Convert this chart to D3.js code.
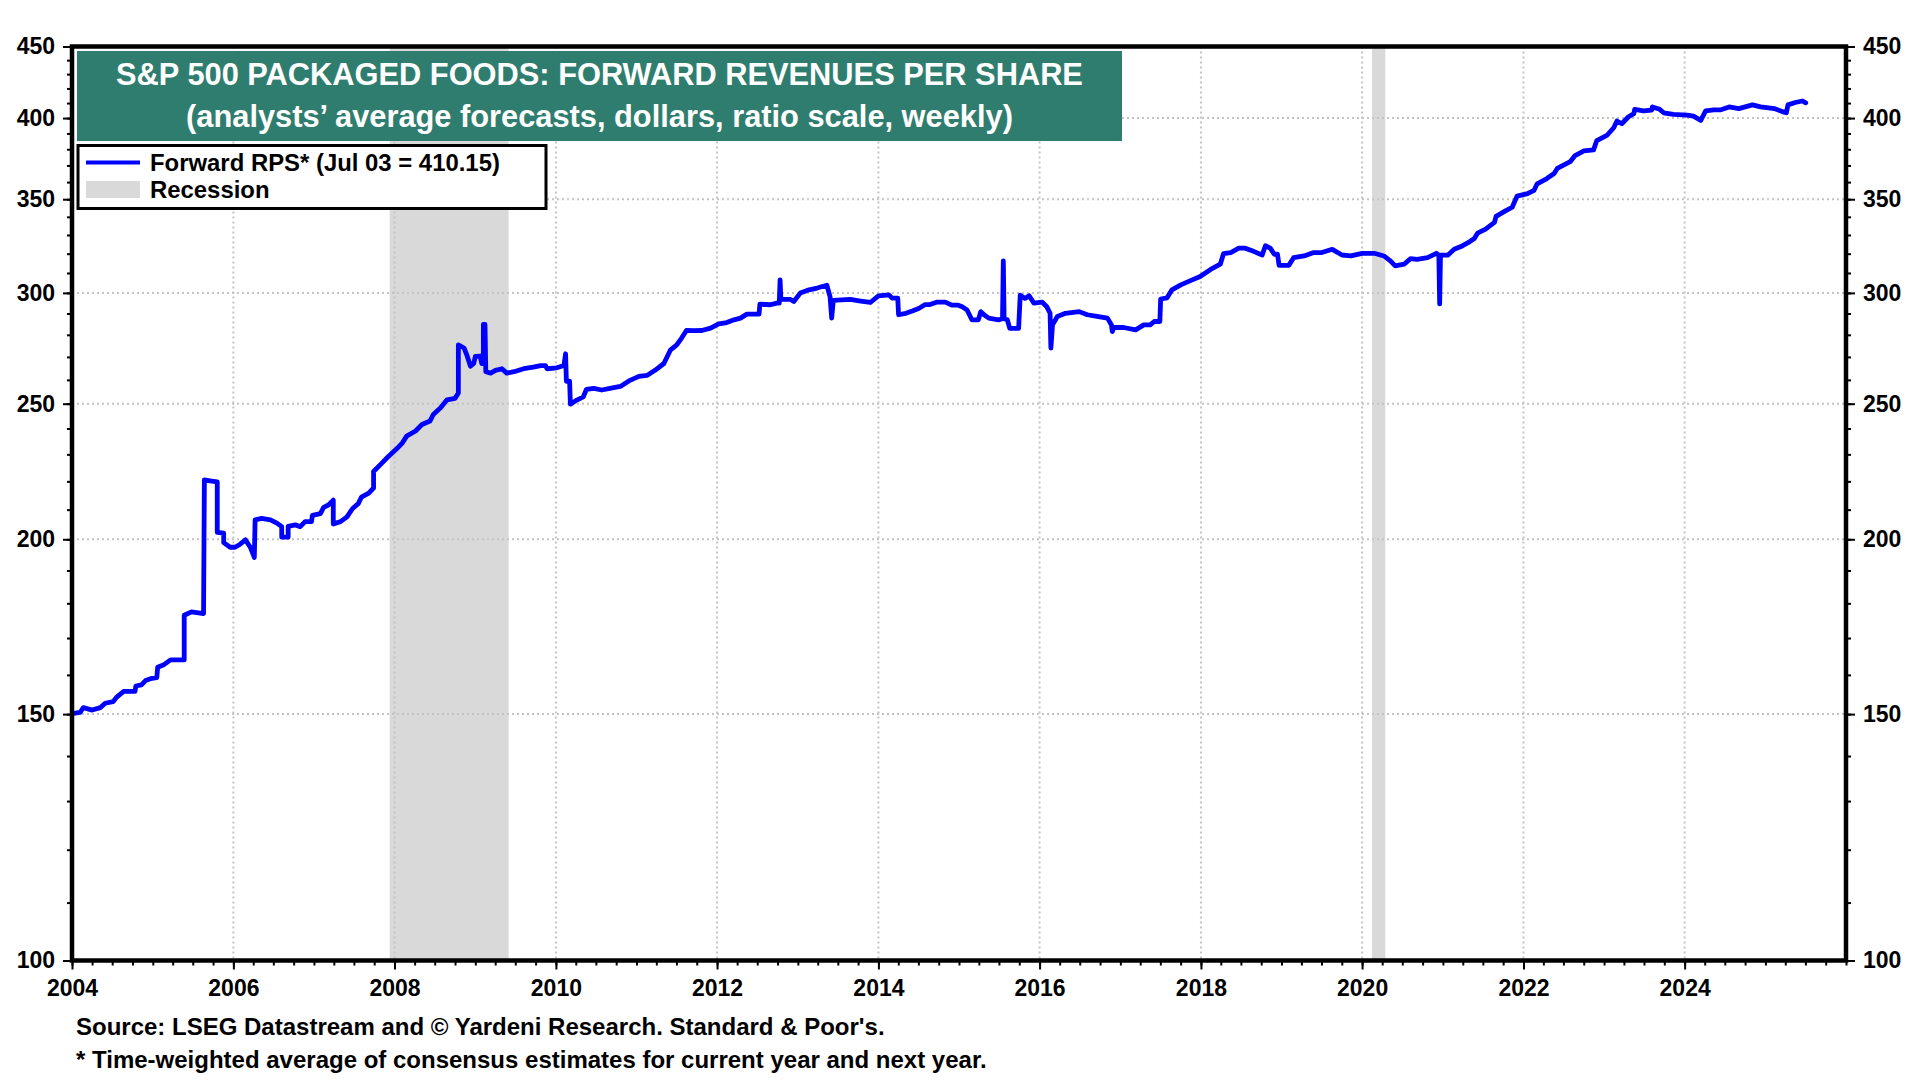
<!DOCTYPE html>
<html lang="en">
<head>
    <meta charset="UTF-8">
    <script src="https://cdn.jsdelivr.net/npm/d3@7"></script>
    <style>
        body { margin: 0; background: #fff; }
        svg { display: block; font-family: "Liberation Sans", Arial, sans-serif; font-weight: bold; }
    </style>
</head>
<body>
<div id="chart"></div>
<script>
    // DATA

    // decimal year of each reading, weekly series thinned to the visible turning points
    const rpsDates = [
        2004.02, 2004.10, 2004.14, 2004.25, 2004.35, 2004.41, 2004.51, 2004.55, 2004.64, 2004.78,
        2004.79, 2004.86, 2004.91, 2004.99, 2005.05, 2005.06, 2005.13, 2005.22, 2005.39, 2005.39,
        2005.48, 2005.63, 2005.64, 2005.71, 2005.80, 2005.80, 2005.88, 2005.88, 2005.96, 2006.02,
        2006.08, 2006.15, 2006.21, 2006.26, 2006.27, 2006.35, 2006.46, 2006.54, 2006.60, 2006.60,
        2006.68, 2006.68, 2006.77, 2006.83, 2006.89, 2006.97, 2006.98, 2007.08, 2007.12, 2007.18,
        2007.24, 2007.24, 2007.33, 2007.41, 2007.48, 2007.55, 2007.59, 2007.68, 2007.74, 2007.74,
        2007.84, 2007.92, 2008.03, 2008.10, 2008.15, 2008.26, 2008.34, 2008.44, 2008.48, 2008.57,
        2008.65, 2008.75, 2008.79, 2008.79, 2008.86, 2008.90, 2008.94, 2008.98, 2009.00, 2009.06,
        2009.08, 2009.10, 2009.10, 2009.12, 2009.13, 2009.19, 2009.25, 2009.33, 2009.39, 2009.48,
        2009.60, 2009.72, 2009.81, 2009.87, 2009.89, 2010.01, 2010.10, 2010.12, 2010.13, 2010.17,
        2010.18, 2010.26, 2010.34, 2010.38, 2010.47, 2010.57, 2010.67, 2010.80, 2010.92, 2011.03,
        2011.13, 2011.23, 2011.34, 2011.42, 2011.50, 2011.56, 2011.62, 2011.71, 2011.81, 2011.92,
        2012.02, 2012.12, 2012.21, 2012.29, 2012.37, 2012.52, 2012.53, 2012.66, 2012.74, 2012.77,
        2012.78, 2012.79, 2012.91, 2012.95, 2013.03, 2013.14, 2013.24, 2013.36, 2013.40, 2013.42,
        2013.44, 2013.65, 2013.78, 2013.90, 2014.00, 2014.13, 2014.17, 2014.24, 2014.25, 2014.34,
        2014.42, 2014.50, 2014.58, 2014.64, 2014.73, 2014.83, 2014.91, 2014.99, 2015.04, 2015.10,
        2015.16, 2015.24, 2015.27, 2015.31, 2015.37, 2015.49, 2015.54, 2015.55, 2015.56, 2015.60,
        2015.63, 2015.74, 2015.76, 2015.82, 2015.87, 2015.93, 2016.03, 2016.09, 2016.13, 2016.14,
        2016.16, 2016.22, 2016.32, 2016.49, 2016.59, 2016.71, 2016.84, 2016.89, 2016.90, 2016.92,
        2017.04, 2017.19, 2017.29, 2017.37, 2017.42, 2017.49, 2017.50, 2017.58, 2017.64, 2017.75,
        2017.87, 2017.99, 2018.12, 2018.24, 2018.28, 2018.37, 2018.47, 2018.55, 2018.66, 2018.76,
        2018.80, 2018.86, 2018.91, 2018.95, 2018.97, 2019.09, 2019.15, 2019.28, 2019.40, 2019.50,
        2019.63, 2019.75, 2019.86, 2020.00, 2020.15, 2020.27, 2020.35, 2020.41, 2020.52, 2020.60,
        2020.68, 2020.81, 2020.92, 2020.95, 2020.96, 2020.97, 2021.06, 2021.14, 2021.24, 2021.33,
        2021.39, 2021.43, 2021.53, 2021.64, 2021.66, 2021.76, 2021.86, 2021.92, 2022.05, 2022.13,
        2022.17, 2022.29, 2022.38, 2022.42, 2022.58, 2022.64, 2022.75, 2022.87, 2022.91, 2023.04,
        2023.12, 2023.16, 2023.22, 2023.30, 2023.37, 2023.38, 2023.49, 2023.59, 2023.60, 2023.69,
        2023.74, 2023.86, 2024.03, 2024.11, 2024.20, 2024.26, 2024.36, 2024.44, 2024.55, 2024.67,
        2024.84, 2024.94, 2025.11, 2025.21, 2025.26, 2025.28, 2025.37, 2025.46, 2025.50
    ];
    // forward revenues per share, dollars
    const rpsValues = [
        150.2, 150.4, 151.6, 151.0, 151.6, 152.7, 153.1, 154.2, 155.7, 155.7,
        157.1, 157.4, 158.5, 159.1, 159.3, 162.0, 162.6, 164.0, 164.0, 176.5,
        177.5, 177.0, 220.5, 220.2, 219.8, 202.3, 202.0, 198.9, 197.4, 197.4,
        198.3, 199.8, 197.4, 194.1, 206.5, 207.0, 206.5, 205.4, 204.2, 200.7,
        200.7, 204.3, 204.8, 204.2, 205.9, 205.9, 208.0, 208.6, 210.8, 211.6,
        213.3, 205.1, 205.9, 207.5, 210.4, 212.1, 214.4, 215.8, 217.6, 223.6,
        226.6, 229.1, 232.2, 234.5, 237.0, 239.0, 241.6, 243.0, 245.6, 248.3,
        251.6, 252.2, 254.4, 275.4, 274.0, 270.3, 265.9, 267.1, 270.2, 270.4,
        267.1, 267.1, 284.8, 284.8, 263.5, 262.9, 264.1, 264.8, 262.9, 263.5,
        264.8, 265.5, 266.2, 266.2, 264.8, 265.2, 266.2, 271.4, 259.4, 259.4,
        249.8, 251.5, 252.8, 256.0, 256.4, 255.7, 256.4, 257.2, 259.8, 261.5,
        261.9, 264.1, 267.1, 273.0, 275.4, 278.5, 282.0, 281.9, 282.0, 283.1,
        285.1, 285.7, 287.0, 287.8, 289.7, 289.7, 294.5, 294.2, 295.0, 295.0,
        306.5, 296.8, 296.8, 295.8, 299.9, 301.5, 302.4, 303.8, 298.0, 287.8,
        296.3, 296.8, 296.0, 295.3, 298.5, 299.0, 297.4, 297.4, 289.4, 290.1,
        291.2, 292.4, 294.3, 294.3, 295.5, 295.5, 294.0, 294.0, 293.2, 291.7,
        287.0, 287.0, 290.9, 289.4, 287.8, 287.0, 287.5, 316.2, 287.5, 287.0,
        283.0, 283.0, 298.9, 297.3, 298.6, 295.0, 295.5, 293.2, 290.1, 274.0,
        284.6, 288.6, 290.1, 290.9, 289.4, 288.6, 287.8, 284.6, 281.5, 283.4,
        283.4, 282.3, 284.6, 284.6, 286.2, 286.2, 297.0, 297.6, 301.5, 304.0,
        306.1, 308.2, 311.8, 314.5, 320.0, 320.6, 322.9, 322.9, 321.1, 319.3,
        324.2, 322.9, 319.7, 319.7, 313.9, 313.9, 317.9, 318.8, 320.6, 320.6,
        322.3, 319.3, 318.8, 320.2, 320.2, 318.8, 316.2, 313.6, 314.5, 317.4,
        317.0, 317.9, 320.2, 319.2, 294.6, 319.2, 319.2, 322.3, 324.1, 326.3,
        328.1, 331.0, 333.2, 336.9, 340.3, 342.9, 345.4, 351.8, 353.2, 355.1,
        359.0, 362.1, 365.1, 368.2, 372.3, 376.1, 379.0, 379.6, 385.5, 389.0,
        393.7, 398.1, 396.3, 400.7, 402.9, 405.8, 404.7, 405.2, 407.4, 405.8,
        403.5, 402.4, 402.0, 401.3, 398.5, 404.7, 405.4, 405.4, 407.4, 406.3,
        408.8, 407.4, 406.3, 404.3, 403.5, 408.8, 410.4, 411.4, 410.15
    ];
    const recessionStarts = ["2007-12-10", "2020-02-15"];
    const recessionEnds = ["2009-06-01", "2020-04-15"];
    const yTickLabels = [100, 150, 200, 250, 300, 350, 400, 450];
    const titleLines = [
        "S&P 500 PACKAGED FOODS: FORWARD REVENUES PER SHARE",
        "(analysts\u2019 average forecasts, dollars, ratio scale, weekly)"
    ];
    const legendLabels = ["Forward RPS* (Jul 03 = 410.15)", "Recession"];
    const footnotes = [
        "Source: LSEG Datastream and \u00A9 Yardeni Research. Standard & Poor's.",
        "* Time-weighted average of consensus estimates for current year and next year."
    ];

    // LAYOUT
    const WIDTH = 1920;
    const HEIGHT = 1080;
    const LEFT = 72, RIGHT = 1846, TOP = 46.5, BOTTOM = 960.5;
    const BLUE = "#0000ff";
    const GREY = "#d9d9d9";
    const TEAL = "#2f7d6f";

    // turn a decimal year into a Date
    function decToDate(d) {
        const y = Math.floor(d);
        const start = new Date(y, 0, 1), end = new Date(y + 1, 0, 1);
        return new Date(+start + (d - y) * (end - start));
    }
    const parse = d3.timeParse("%Y-%m-%d");
    const series = rpsDates.map((d, i) => ({ date: decToDate(d), value: rpsValues[i] }));

    const x = d3.scaleTime()
        .domain([new Date(2004, 0, 1), new Date(2026, 0, 1)])
        .range([LEFT, RIGHT]);
    const y = d3.scaleLog()
        .domain([100, 450])
        .range([BOTTOM, TOP]);

    const svg = d3.select("#chart").append("svg")
        .attr("width", WIDTH)
        .attr("height", HEIGHT);

    svg.append("rect").attr("width", WIDTH).attr("height", HEIGHT).attr("fill", "#fff");

    // recession bands
    svg.append("g").selectAll("rect")
        .data(recessionStarts.map((s, i) => [parse(s), parse(recessionEnds[i])]))
        .enter().append("rect")
        .attr("x", d => x(d[0]))
        .attr("width", d => x(d[1]) - x(d[0]))
        .attr("y", TOP)
        .attr("height", BOTTOM - TOP)
        .attr("fill", GREY);

    // dotted grid
    const evenYears = d3.range(2004, 2027, 2).map(yr => new Date(yr, 0, 1));
    const grid = svg.append("g")
        .attr("stroke", "#c4c4c4")
        .attr("stroke-width", 2)
        .attr("stroke-dasharray", "2,3");
    grid.selectAll(".vgrid")
        .data(evenYears.slice(1, -1))
        .enter().append("line")
        .attr("x1", d => x(d)).attr("x2", d => x(d))
        .attr("y1", TOP).attr("y2", BOTTOM);
    grid.selectAll(".hgrid")
        .data(yTickLabels.slice(1, -1))
        .enter().append("line")
        .attr("x1", LEFT).attr("x2", RIGHT)
        .attr("y1", d => y(d)).attr("y2", d => y(d));

    // the series
    const line = d3.line()
        .x(d => x(d.date))
        .y(d => y(d.value));
    svg.append("path")
        .datum(series)
        .attr("d", line)
        .attr("fill", "none")
        .attr("stroke", BLUE)
        .attr("stroke-width", 4.8)
        .attr("stroke-linejoin", "round")
        .attr("stroke-linecap", "round");

    // title box
    svg.append("rect")
        .attr("x", 77).attr("y", 51)
        .attr("width", 1045).attr("height", 90)
        .attr("fill", TEAL);
    svg.append("g").selectAll("text")
        .data(titleLines)
        .enter().append("text")
        .attr("x", 599.5)
        .attr("y", (d, i) => 85 + i * 42)
        .attr("text-anchor", "middle")
        .attr("fill", "#fff")
        .attr("font-size", 30.8)
        .text(d => d);

    // legend
    const legend = svg.append("g");
    legend.append("rect")
        .attr("x", 78).attr("y", 145.5)
        .attr("width", 468).attr("height", 63)
        .attr("fill", "#fff")
        .attr("stroke", "#000")
        .attr("stroke-width", 3);
    legend.append("line")
        .attr("x1", 86).attr("x2", 140)
        .attr("y1", 162.5).attr("y2", 162.5)
        .attr("stroke", BLUE).attr("stroke-width", 4);
    legend.append("rect")
        .attr("x", 86).attr("y", 181)
        .attr("width", 54).attr("height", 17)
        .attr("fill", GREY);
    legend.selectAll("text")
        .data(legendLabels)
        .enter().append("text")
        .attr("x", 150)
        .attr("y", (d, i) => 170.5 + i * 27)
        .attr("font-size", 23.9)
        .text(d => d);

    // axes
    const quarters = d3.timeMonth.every(3).range(new Date(2004, 0, 1), new Date(2026, 0, 2));
    const tens = d3.range(100, 451, 10);

    function styleAxis(g) {
        g.select(".domain").remove();
        g.selectAll(".tick line").attr("stroke", "#000").attr("stroke-width", 2);
        g.selectAll(".tick text").attr("fill", "#000")
            .style("font-size", "23px")
            .style("font-family", "'Liberation Sans', Arial, sans-serif")
            .style("font-weight", "bold");
    }

    svg.append("g")
        .attr("transform", `translate(0,${BOTTOM})`)
        .call(d3.axisBottom(x).tickValues(quarters).tickSize(5).tickFormat(""))
        .call(styleAxis);
    svg.append("g")
        .attr("transform", `translate(0,${BOTTOM})`)
        .call(d3.axisBottom(x).tickValues(evenYears.slice(0, -1)).tickSize(9).tickPadding(10)
            .tickFormat(d3.timeFormat("%Y")))
        .call(styleAxis);

    svg.append("g")
        .attr("transform", `translate(${LEFT},0)`)
        .call(d3.axisLeft(y).tickValues(tens).tickSize(5).tickFormat(""))
        .call(styleAxis);
    svg.append("g")
        .attr("transform", `translate(${LEFT},0)`)
        .call(d3.axisLeft(y).tickValues(yTickLabels).tickSize(9).tickPadding(8).tickFormat(d3.format("d")))
        .call(styleAxis);
    svg.append("g")
        .attr("transform", `translate(${RIGHT},0)`)
        .call(d3.axisRight(y).tickValues(tens).tickSize(5).tickFormat(""))
        .call(styleAxis);
    svg.append("g")
        .attr("transform", `translate(${RIGHT},0)`)
        .call(d3.axisRight(y).tickValues(yTickLabels).tickSize(9).tickPadding(8).tickFormat(d3.format("d")))
        .call(styleAxis);

    // frame
    svg.append("rect")
        .attr("x", LEFT).attr("y", TOP)
        .attr("width", RIGHT - LEFT).attr("height", BOTTOM - TOP)
        .attr("fill", "none")
        .attr("stroke", "#000")
        .attr("stroke-width", 4.5);

    // footnotes
    svg.append("g").selectAll("text")
        .data(footnotes)
        .enter().append("text")
        .attr("x", 76)
        .attr("y", (d, i) => 1035 + i * 33)
        .attr("font-size", 24)
        .text(d => d);
</script>
</body>
</html>
